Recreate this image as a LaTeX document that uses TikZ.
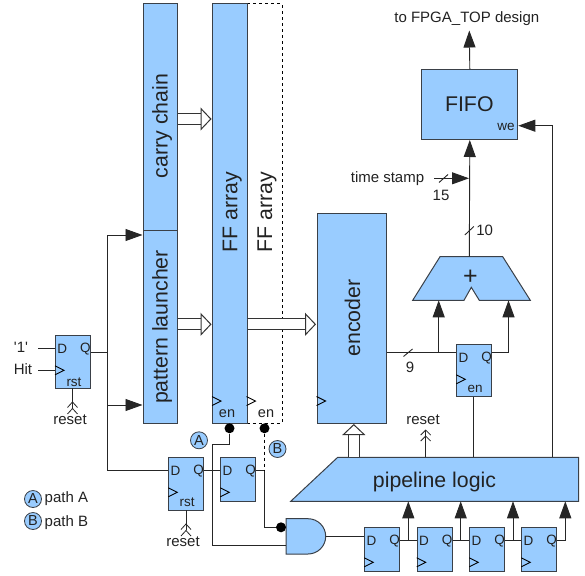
\documentclass[tikz,border=0pt]{standalone}
\usepackage{fontspec}
\setmainfont{Liberation Sans}
\usepackage{tikz}
\usetikzlibrary{arrows.meta,positioning,calc}
\usepackage{xcolor}
\definecolor{sky}{HTML}{99CCFF}
\definecolor{ink}{HTML}{222222}
\definecolor{rim}{HTML}{3A4048}
\newcommand{\fs}[1]{\fontsize{#1}{#1}\selectfont}
\tikzset{
  block/.style={draw=rim,line width=1pt,fill=sky,inner sep=0pt,anchor=north west},
  big/.style={font=\fs{21.3},text=ink,inner sep=0pt},
  mid/.style={font=\fs{15},text=ink,inner sep=0pt},
  port/.style={font=\fs{13.5},text=ink,inner sep=0pt},
  wire/.style={line width=.9pt,draw=black!85},
  arr/.style={wire,-{Triangle[length=17pt,width=12pt]}},
  fatarr/.style={line width=1pt,draw=black!80,double=white,double distance=10pt,-{Triangle[open,fill=white,line width=1pt,length=11pt,width=23pt]},shorten >=.5pt},
  rstarr/.style={wire,{Straight Barb[reversed,length=5.5pt,width=10pt,line width=.8pt]Straight Barb[reversed,length=5.5pt,width=10pt,line width=.8pt]}-},
  rstup/.style={wire,-{Straight Barb[length=5pt,width=10pt,line width=.8pt]Straight Barb[length=5pt,width=10pt,line width=.8pt]}},
  dot/.style={circle,fill=black,inner sep=0pt,minimum size=10pt},
  tag/.style={circle,draw=rim,line width=.8pt,fill=sky,inner sep=0pt,minimum size=17pt,font=\fs{14.5},text=ink},
  clk/.style={line width=.9pt,draw=black}
}
% name, left, top, height
\newcommand{\dffbox}[4]{
  \node[block,minimum width=35pt,minimum height=#4pt] (#1) at (#2,#3) {};
  \node[port] (#1D) at ($(#1.north west)+(7.3,13.7)$) {D};
  \node[port] (#1Q) at ($(#1.north east)+(-5.7,13.7)$) {Q};
  \coordinate (#1c) at ($(#1.north west)+(0,35)$);
  \draw[clk] ($(#1c)+(0,-4.5)$) -- ++(9,4.5) -- ++(-9,4.5);
}

\begin{document}
\begin{tikzpicture}[x=1pt,y=-1pt]
  \useasboundingbox (0,0) rectangle (585,575);

  % chain on the left
  \node[block,minimum width=34.5pt,minimum height=226.5pt] (carry) at (142.5,3.5) {};
  \node[block,minimum width=34.5pt,minimum height=192.5pt] (launcher) at (142.5,230) {};
  \node[big,rotate=90] (carrytxt) at (162,126) {carry chain};
  \node[big,rotate=90] (launchertxt) at (162,327) {pattern launcher};

  % the two arrays
  \node[block,draw=black,dashed,line width=.8pt,fill=white,minimum width=35pt,minimum height=419pt] (ffb) at (246.5,3.5) {};
  \node[block,minimum width=34.5pt,minimum height=419pt] (ffa) at (212,3.5) {};
  \node[big,rotate=90] (ffatxt) at (232.3,212.3) {FF array};
  \node[big,rotate=90] (ffbtxt) at (267,212.3) {FF array};
  \node[font=\fs{14.5},text=ink,inner sep=0pt] (ffaen) at (227,413.5) {en};
  \node[font=\fs{14.5},text=ink,inner sep=0pt] (ffben) at (266,413.5) {en};
  \draw[clk] (212,396.5) -- ++(9,4.5) -- ++(-9,4.5);
  \draw[clk] (246.5,396.5) -- ++(9,4.5) -- ++(-9,4.5);

  % encoder and fifo
  \node[block,minimum width=69.5pt,minimum height=209.5pt] (enc) at (316.5,213) {};
  \node[big,rotate=90] (enctxt) at (352.5,318) {encoder};
  \draw[clk] (316.5,396.5) -- ++(9,4.5) -- ++(-9,4.5);
  \node[block,minimum width=96pt,minimum height=70pt] (fifo) at (421.3,69) {};
  \node[big] (fifotxt) at (469.3,104) {FIFO};
  \node[port] (fifowe) at (506,127) {we};
  \node[mid] (top) at (466.8,19) {to FPGA\_TOP design};

  % adder
  \draw[block] (440,256.7) coordinate (addtop) -- (502.7,256.7) -- (530.3,300.3) -- (479.3,300.3)
    -- (471.3,287.3) -- (464,300.3) -- (412.7,300.3) -- cycle;
  \node[font=\fs{25},text=ink,inner sep=0pt] (plus) at (470.5,277.3) {+};
  \coordinate (addin1) at (438.7,300.3);
  \coordinate (addin2) at (508.5,300.3);
  \coordinate (addout) at (469.3,256.7);

  % pipeline logic
  \draw[block] (337.7,457.3) -- (578.7,457.3) -- (578.7,501.3) -- (290.7,501.3) -- cycle;
  \node[big] (pipetxt) at (434.5,481.5) {pipeline logic};

  % flip-flops
  \dffbox{hitff}{55}{335.3}{52.4}
  \node[port] (hitrst) at (74,382) {rst};
  \dffbox{rstff}{168.3}{457.3}{52.7}
  \node[port] (rstrst) at (187,502.5) {rst};
  \dffbox{midff}{220.3}{457.3}{44}
  \dffbox{enff}{456.3}{344.3}{52}
  \node[port] (enen) at (475,388.5) {en};
  \dffbox{shfa}{364.3}{527.3}{43.7}
  \dffbox{shfb}{416.7}{527.3}{43.7}
  \dffbox{shfc}{469.3}{527.3}{43.7}
  \dffbox{shfd}{521.3}{527.3}{43.7}

  % and gate
  \draw[block] (286,518.7) -- (308,518.7) arc[start angle=90,end angle=-90,x radius=17.7,y radius=-17.65]
    -- (286,554) -- cycle;
  \coordinate (andin1) at (281,527.3);
  \coordinate (andin2) at (286,545);
  \coordinate (andout) at (325.7,536.3);

  % labels
  \node[mid] (one) at (21,347) {\textquotesingle1\textquotesingle};
  \node[mid] (hit) at (23,369.5) {Hit};
  \node[mid] (resa) at (70,420) {reset};
  \node[mid] (resb) at (183,542) {reset};
  \node[mid] (resc) at (423,420) {reset};
  \node[mid] (stamp) at (387.5,178.2) {time stamp};
  \node[mid] (fifteen) at (441,195) {15};
  \node[mid] (ten) at (484.7,230) {10};
  \node[mid] (nine) at (410,367) {9};
  \node[tag] (taga) at (199,440.3) {A};
  \node[tag] (tagb) at (277.5,449) {B};
  \node[tag] (lega) at (33,499) {A};
  \node[tag] (legb) at (33,521) {B};
  \node[mid,anchor=west] (legatxt) at (44.5,498.5) {path A};
  \node[mid,anchor=west] (legbtxt) at (44.5,522.5) {path B};

  % enable dots
  \node[dot] (dota) at (229.5,428.3) {};
  \node[dot] (dotb) at (264.5,428.3) {};
  \node[dot] (dotc) at (281,527.3) {};

  % wires on the left
  \coordinate (hitnode) at (107.5,352.7);
  \draw[wire] (38,348.7) -- (hitff.west |- 0,348.7);
  \draw[wire] (38,370.3) -- (hitff.west |- 0,370.3);
  \draw[wire] (hitff.east |- hitnode) -- (hitnode);
  \draw[wire] (107.5,235) -- (107.5,470.7) -- (rstff.west |- 0,470.7);
  \draw[arr] (107.5,235) -- (launcher.west |- 0,235);
  \draw[arr] (107.5,405) -- (launcher.west |- 0,405);
  \draw[rstarr] (resa.north) ++(2.5,-.5) -- (72.5,387.7);
  \draw[rstarr] (resb.north) ++(3,-.5) -- (186,510);
  \draw[wire] (rstff.east |- 0,470.7) -- (midff.west |- 0,470.7);
  \draw[wire] (212,470.7) -- (212,444.7) -- (229.5,444.7) -- (dota);
  \draw[wire] (212,470.7) -- (212,545) -- (andin2);
  \draw[wire] (midff.east |- 0,470.7) -- (264.5,470.7) -- (264.5,527.3) -- (dotc);
  \draw[line width=.8pt,dashed] (dotb) -- (264.5,470.7);

  % block arrows
  \draw[fatarr] (carry.east |- 0,119) -- (ffa.west |- 0,119);
  \draw[fatarr] (launcher.east |- 0,324.3) -- (ffa.west |- 0,324.3);
  \draw[fatarr] (ffa.east |- 0,324.3) -- (enc.west |- 0,324.3);
  \draw[fatarr] (353.8,457.3) -- (enc.south -| 353.8,0);

  % right side
  \draw[wire] (enc.east |- 0,352.7) -- (enff.west |- 0,352.7);
  \draw[wire] (403.5,356.5) -- (412.5,349);
  \draw[arr] (438.7,352.7) -- (addin1);
  \draw[wire] (enff.east |- 0,352.7) -- (508.5,352.7);
  \draw[arr] (508.5,352.7) -- (addin2);
  \draw[wire] (enff.south -| 473.7,0) -- (473.7,457.3);
  \draw[arr] (552.3,457.3) -- (552.3,125.7) -- (fifo.east |- 0,125.7);
  \draw[rstup] (425.7,457.3) -- (425.7,429.5);
  \draw[arr] (addout) -- (fifo.south);
  \draw[arr] (fifo.north) -- (469.3,30.5);
  \draw[wire] (464.8,235) -- (473.8,226.5);
  \draw[arr] (434,178.3) -- (469,178.3);
  \draw[wire] (439,182.5) -- (448,174.5);

  % shift chain
  \draw[wire] (andout) -- (shfa.west |- andout);
  \draw[wire] (shfa.east |- 0,540.3) -- (shfb.west |- 0,540.3);
  \draw[wire] (shfb.east |- 0,540.3) -- (shfc.west |- 0,540.3);
  \draw[wire] (shfc.east |- 0,540.3) -- (shfd.west |- 0,540.3);
  \draw[arr] (408.3,540.3) -- (408.3,501.3);
  \draw[arr] (460.7,540.3) -- (460.7,501.3);
  \draw[arr] (513,540.3) -- (513,501.3);
  \draw[arr] (shfd.east |- 0,540.3) -- (565.3,540.3) -- (565.3,501.3);
\end{tikzpicture}
\end{document}
